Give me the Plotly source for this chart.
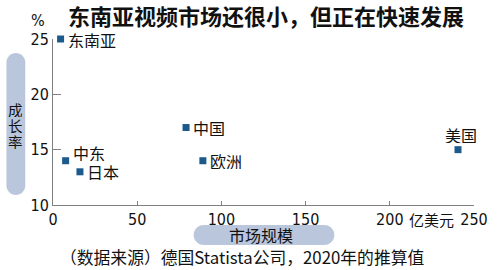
import plotly.graph_objects as go

# ---- data ----
regions = ["东南亚", "中国", "欧洲", "中东", "日本", "美国"]
market_size = [4.5, 79, 89, 7.5, 16, 240.5]      # 亿美元
growth_rate = [25, 17, 14, 14, 13, 15]           # %
# label styling: (xanchor, xshift px, yshift px)
label_style = [("left", 5, 0), ("left", 5, 0), ("left", 5, 0),
               ("left", 5, 8), ("left", 5, 0), ("center", 3, 15)]

x_ticks = [0, 50, 100, 150, 200, 250]
y_ticks = [10, 15, 20, 25]

title_text = "东南亚视频市场还很小，但正在快速发展"
x_title = "市场规模"
y_title = "成长率"
x_unit = "亿美元"
y_unit = "%"
source_text = "（数据来源）德国Statista公司，2020年的推算值"

# ---- layout geometry (pixels) ----
W, H = 500, 270
L, R, T, B = 53, 22, 39, 65
PW, PH = W - L - R, H - T - B

CJK = "Noto Sans CJK SC, sans-serif"
NUM = "Liberation Sans Narrow, Arial Narrow, DejaVu Sans Condensed, sans-serif"
MARK = "#1c5a8c"
AXIS = "#808080"
PILL = "#b9c6dc"
TXT = "#111111"


def px_x(p):
    return (p - L) / PW


def px_y(p):
    return (H - B - p) / PH


def pill_path(x0, y0, x1, y1):
    r = min(x1 - x0, y1 - y0) / 2.0
    k = 0.5523 * r
    def P(x, y):
        return f"{px_x(x):.5f},{px_y(y):.5f}"
    d = f"M {P(x0 + r, y0)} L {P(x1 - r, y0)} "
    d += f"C {P(x1 - r + k, y0)} {P(x1, y0 + r - k)} {P(x1, y0 + r)} "
    d += f"L {P(x1, y1 - r)} "
    d += f"C {P(x1, y1 - r + k)} {P(x1 - r + k, y1)} {P(x1 - r, y1)} "
    d += f"L {P(x0 + r, y1)} "
    d += f"C {P(x0 + r - k, y1)} {P(x0, y1 - r + k)} {P(x0, y1 - r)} "
    d += f"L {P(x0, y0 + r)} "
    d += f"C {P(x0, y0 + r - k)} {P(x0 + r - k, y0)} {P(x0 + r, y0)} Z"
    return d


def ann(text, x, y, font, size, bold=False, **kw):
    d = dict(text=f"<b>{text}</b>" if bold else text, xref="paper", yref="paper",
             x=px_x(x), y=px_y(y), xanchor="center", yanchor="middle",
             showarrow=False, font=dict(family=font, size=size, color=TXT))
    d.update(kw)
    return d


fig = go.Figure()
fig.add_trace(go.Scatter(
    x=market_size, y=growth_rate, mode="markers",
    marker=dict(symbol="square", size=7, color=MARK),
    cliponaxis=False, hoverinfo="skip", showlegend=False,
))

shapes = [
    dict(type="path", xref="paper", yref="paper", path=pill_path(6, 53, 25, 195),
         fillcolor=PILL, line=dict(width=0), layer="below"),
    dict(type="path", xref="paper", yref="paper", path=pill_path(195, 225, 337, 245),
         fillcolor=PILL, line=dict(width=0), layer="below"),
]

annotations = []
for name, xv, yv, (xa, xs, ys) in zip(regions, market_size, growth_rate, label_style):
    annotations.append(dict(text=name, x=xv, y=yv, xref="x", yref="y",
                            xanchor=xa, yanchor="middle", xshift=xs, yshift=ys,
                            height=17,
                            showarrow=False, font=dict(family=CJK, size=16, color=TXT)))

annotations.append(ann(title_text, 268, 15, CJK, 22, bold=True))
for i, ch in enumerate(y_title):
    annotations.append(ann(ch, 15.5, 109 + 16 * i, CJK, 14.5, height=16))
annotations.append(ann(x_title, 263, 235, CJK, 16))
annotations.append(ann(x_unit, 435, 219, CJK, 15))
annotations.append(ann(y_unit, 38, 21, NUM, 16))
annotations.append(ann(source_text, 244, 257, CJK, 16.8))

fig.update_layout(
    width=W, height=H, autosize=False,
    margin=dict(l=L, r=R, t=T, b=B, pad=0),
    paper_bgcolor="white", plot_bgcolor="white",
    shapes=shapes, annotations=annotations,
    xaxis=dict(range=[0, 250], tickvals=x_ticks, ticktext=[str(v) for v in x_ticks],
               showgrid=False, zeroline=False, showline=True, linecolor=AXIS, linewidth=1,
               ticks="inside", ticklen=4, tickcolor=AXIS,
               tickfont=dict(family=NUM, size=16, color=TXT)),
    yaxis=dict(range=[10, 25], tickvals=y_ticks, ticktext=[str(v) for v in y_ticks],
               showgrid=False, zeroline=False, showline=True, linecolor=AXIS, linewidth=1,
               ticks="inside", ticklen=8, tickcolor=AXIS,
               tickfont=dict(family=NUM, size=16, color=TXT)),
)

fig.write_html("out.html")
